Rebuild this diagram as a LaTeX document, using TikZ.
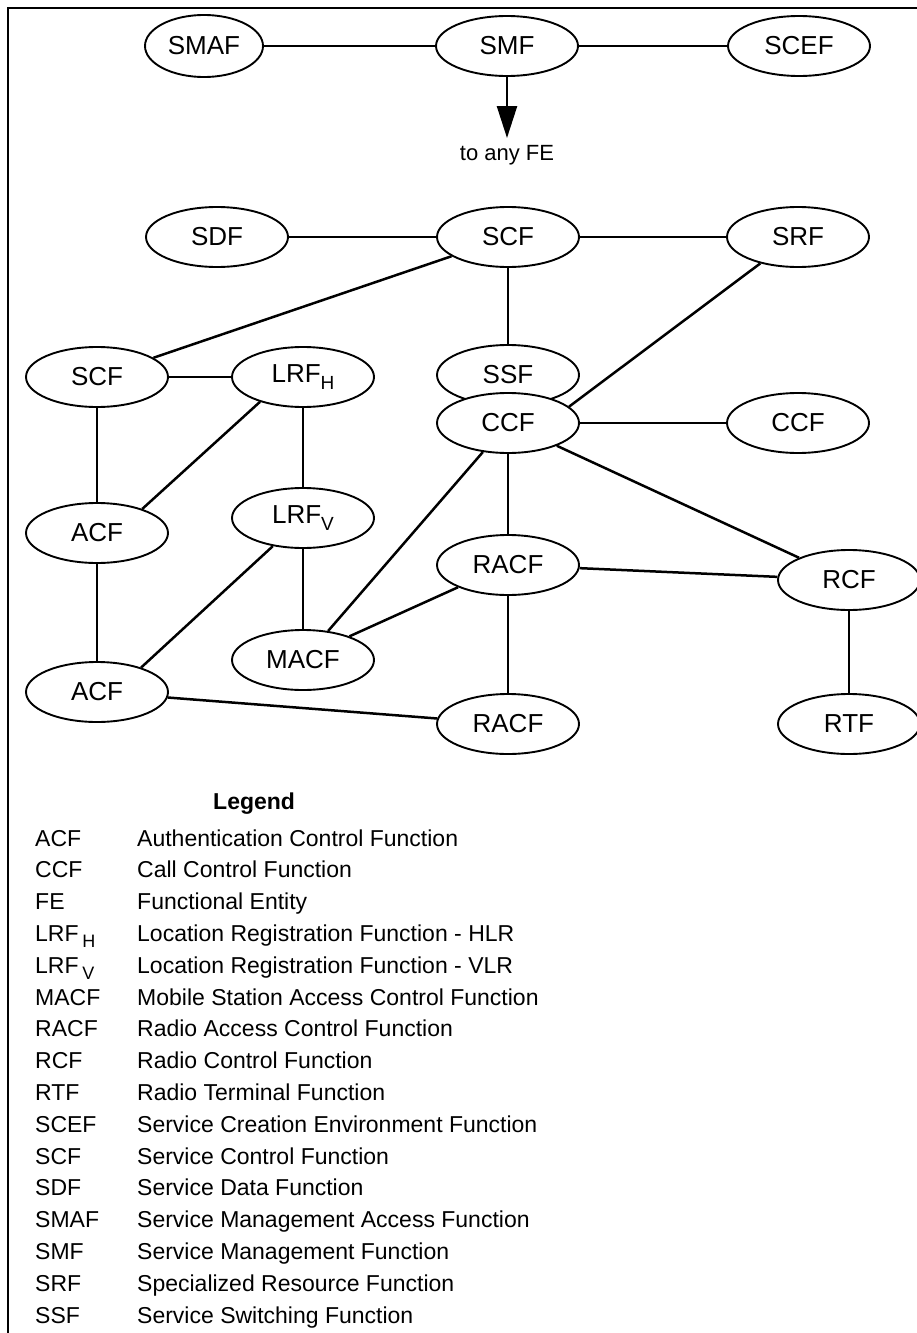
\documentclass[tikz,border=0pt]{standalone}
\usepackage{fontspec}
\setmainfont{Liberation Sans}
\usetikzlibrary{arrows.meta,shapes.geometric}
\newcommand{\nsub}[1]{\raisebox{-0.45ex}{\fontsize{19}{20}\selectfont #1}}
\newcommand{\lsub}[1]{\,\raisebox{-0.5ex}{\fontsize{18}{20}\selectfont #1}}
\begin{document}
\begin{tikzpicture}[x=1pt,y=-1pt,
  fe/.style={draw, ellipse, line width=1.9pt, minimum width=142pt, minimum height=60pt,
             inner sep=0pt, fill=white, font=\fontsize{26}{30}\selectfont},
  link/.style={line width=2.5pt},
  leg/.style={inner sep=0pt, font=\fontsize{23}{26}\selectfont},
  ]
\useasboundingbox (0,0) rectangle (917,1333);
\coordinate (fb) at (8,1333);
\coordinate (fc) at (8,8);
\coordinate (fr) at (917,8);
\draw[line width=1.5pt] (fb) -- (fc) -- (fr);

% nodes
\node[fe, minimum width=118pt, minimum height=62pt] (smaf) at (204,46) {SMAF};
\node[fe] (smf)  at (507,46) {SMF};
\node[fe] (scef) at (799,46) {SCEF};
\coordinate (tip) at (507,138);
\node[inner sep=0pt, anchor=base, font=\fontsize{22}{26}\selectfont] (tolabel) at (507,160) {to any FE};

\node[fe] (sdf)  at (217,237) {SDF};
\node[fe] (scft) at (508,237) {SCF};
\node[fe] (srf)  at (798,237) {SRF};

\node[fe] (scfl) at (97,377)  {SCF};
\node[fe] (lrfh) at (303,377) {LRF\nsub{H}};
\node[fe] (ssf)  at (508,375) {SSF};
\node[fe] (ccf)  at (508,423) {CCF};
\node[fe] (ccfr) at (798,423) {CCF};

\node[fe] (acfa) at (97,533)  {ACF};
\node[fe] (lrfv) at (303,518) {LRF\nsub{V}};
\node[fe] (racf) at (508,565) {RACF};
\node[fe] (rcf)  at (849,580) {RCF};

\node[fe] (macf) at (303,660) {MACF};
\node[fe] (acfb) at (97,692)  {ACF};
\node[fe] (racfb) at (508,724) {RACF};
\node[fe] (rtf)  at (849,724) {RTF};

% connectors
\draw[link] (smaf) -- (smf);
\draw[link] (smf) -- (scef);
\draw[link, -{Triangle[length=32pt,width=20pt]}] (smf) -- (tip);
\draw[link] (sdf) -- (scft);
\draw[link] (scft) -- (srf);
\draw[link] (scft) -- (ssf);
\draw[link] (scft) -- (scfl);
\draw[link] (srf.215) -- (ccf.15);
\draw[link] (ccf) -- (ccfr);
\draw[link] (ccf) -- (racf);
\draw[link] (ccf) -- (macf);
\draw[link] (ccf.-25) -- (rcf.156);
\draw[link] (scfl) -- (lrfh);
\draw[link] (scfl) -- (acfa);
\draw[link] (lrfh.210) -- (acfa.28);
\draw[link] (lrfh) -- (lrfv);
\draw[link] (lrfv) -- (macf);
\draw[link] (lrfv.223) -- (acfb.29);
\draw[link] (acfa) -- (acfb);
\draw[link] (macf.27) -- (racf.204);
\draw[link] (racf) -- (rcf);
\draw[link] (racf) -- (racfb);
\draw[link] (acfb) -- (racfb);
\draw[link] (rcf) -- (rtf);

% legend
\node[leg, anchor=base west, font=\fontsize{23}{26}\selectfont\bfseries] (legtitle) at (213,809) {Legend};
\foreach \ab/\de [count=\i] in {
  ACF/Authentication Control Function,
  CCF/Call Control Function,
  FE/Functional Entity,
  {LRF\lsub{H}}/Location Registration Function - HLR,
  {LRF\lsub{V}}/Location Registration Function - VLR,
  MACF/Mobile Station Access Control Function,
  RACF/Radio Access Control Function,
  RCF/Radio Control Function,
  RTF/Radio Terminal Function,
  SCEF/Service Creation Environment Function,
  SCF/Service Control Function,
  SDF/Service Data Function,
  SMAF/Service Management Access Function,
  SMF/Service Management Function,
  SRF/Specialized Resource Function,
  SSF/Service Switching Function} {
  \node[leg, anchor=base west] (ab\i) at (35,{846+31.8*(\i-1)}) {\ab};
  \node[leg, anchor=base west] (de\i) at (137,{846+31.8*(\i-1)}) {\de};
}
\end{tikzpicture}
\end{document}
